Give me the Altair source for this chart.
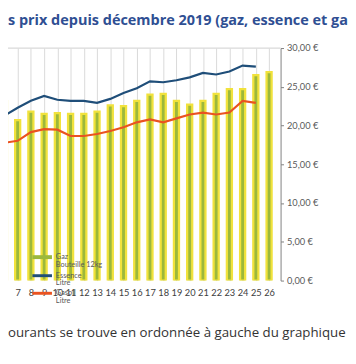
import altair as alt
import pandas as pd

# ---- data ----
categories = list(range(6, 27))
gaz_bouteille = [23.2, 20.7, 21.8, 21.5, 21.6, 21.5, 21.5, 21.8, 22.6, 22.5, 23.2,
                 24.0, 24.1, 23.2, 22.7, 23.2, 24.1, 24.7, 24.7, 26.5, 26.9]
line_categories = list(range(6, 26))
essence_litre = [1.420, 1.487, 1.546, 1.588, 1.555, 1.546, 1.546, 1.529, 1.563, 1.613,
                 1.655, 1.714, 1.706, 1.723, 1.748, 1.786, 1.773, 1.798, 1.849, 1.840]
gasoil_litre = [1.185, 1.202, 1.277, 1.303, 1.298, 1.244, 1.244, 1.261, 1.286, 1.319,
                1.361, 1.387, 1.361, 1.395, 1.429, 1.445, 1.429, 1.445, 1.546, 1.529]
right_axis_ticks = [0, 5, 10, 15, 20, 25, 30]
x_tick_labels = list(range(7, 27))
series_names = ["Gaz", "Essence", "Gasoil"]
series_units = ["Bouteille 12kg", "Litre", "Litre"]
title_text = ["s prix depuis décembre 2019 (gaz, essence et ga"]
note_text = ["ourants se trouve en ordonnée à gauche du graphique"]

GREEN = "#9cb83c"
YELLOW = "#f1e23c"
BLUE = "#1f4e79"
RED = "#ea5321"
PLOT_W, PLOT_H = 279, 238

bar_df = pd.DataFrame({"cat": categories, "gaz": gaz_bouteille})
line_df = pd.concat([
    pd.DataFrame({"cat": line_categories, "value": essence_litre, "series": "Essence"}),
    pd.DataFrame({"cat": line_categories, "value": gasoil_litre, "series": "Gasoil"}),
])
legend_df = pd.DataFrame({"name": series_names, "unit": series_units,
                          "color": [GREEN, BLUE, RED]})

xscale = alt.Scale(domain=[6.64, 26.5], nice=False, zero=False)
xaxis = alt.Axis(values=x_tick_labels, grid=True, gridColor="#d9d9d9",
                 gridWidth=1, ticks=False, domain=False, format="d",
                 labelFont="Lato", labelFontSize=9.5, labelColor="#404040",
                 labelPadding=7, labelFlush=False, labelOverlap=False)
yscale_right = alt.Scale(domain=[0, 30], nice=False)
yaxis_right = alt.Axis(orient="right", values=right_axis_ticks, grid=False,
                       labelExpr="replace(format(datum.value, '.2f'), '.', ',') + ' €'",
                       labelFont="Lato", labelFontSize=9.5, labelColor="#595959",
                       labelPadding=3, tickSize=3, tickColor="#7f7f7f",
                       domainColor="#7f7f7f", labelFlush=False,
                       labelOverlap=False, tickCount=7)

bars = alt.Chart(bar_df).mark_bar(
    size=5.2, color=GREEN, stroke=YELLOW, strokeWidth=2.3, clip=True
).encode(
    x=alt.X("cat:Q", scale=xscale, title=None, axis=xaxis),
    y=alt.Y("gaz:Q", scale=yscale_right, title=None, axis=yaxis_right),
)

top_rule = alt.Chart(bar_df.head(1)).mark_rule(color="#d9d9d9", strokeWidth=1.2).encode(
    y=alt.Y(datum=30, scale=yscale_right, title=None, axis=yaxis_right)
)

bars_group = alt.layer(top_rule, bars)

lines = alt.Chart(line_df).mark_line(strokeWidth=2.2, clip=True).encode(
    x=alt.X("cat:Q", scale=xscale, title=None, axis=xaxis),
    y=alt.Y("value:Q", scale=alt.Scale(domain=[0, 2], nice=False), axis=None),
    color=alt.Color("series:N", scale=alt.Scale(domain=["Essence", "Gasoil"],
                                                range=[BLUE, RED]), legend=None),
)

# manual legend (bottom-left, inside the plot)
legend_layers = []
sw_y = [214, 233, 251]
unit_y = [222, 241, 259]
sw_w = [4, 3, 3]
for i in range(3):
    d = legend_df.iloc[[i]]
    legend_layers.append(alt.Chart(d).mark_rule(strokeWidth=sw_w[i], color=legend_df.color[i]).encode(
        x=alt.value(25), x2=alt.value(45), y=alt.value(sw_y[i])))
    legend_layers.append(alt.Chart(d).mark_text(
        align="left", baseline="middle", font="Lato", fontSize=7.5, color="#595959").encode(
        x=alt.value(49), y=alt.value(sw_y[i]), text="name:N"))
    legend_layers.append(alt.Chart(d).mark_text(
        align="left", baseline="middle", font="Lato", fontSize=7.5, color="#595959").encode(
        x=alt.value(49), y=alt.value(unit_y[i]), text="unit:N"))

title = alt.Chart(pd.DataFrame({"t": title_text})).mark_text(
    align="left", baseline="middle", font="Open Sans", fontSize=14.8, fontWeight="bold",
    color="#2f4f93").encode(x=alt.value(0), y=alt.value(-28), text="t:N")

note = alt.Chart(pd.DataFrame({"t": note_text})).mark_text(
    align="left", baseline="middle", font="Open Sans", fontSize=13.6, color="#333333").encode(
    x=alt.value(0), y=alt.value(292), text="t:N")

main = alt.layer(bars_group, lines).resolve_scale(y="independent")

chart = alt.layer(main, *legend_layers, title, note).properties(
    width=PLOT_W, height=PLOT_H,
    autosize=alt.AutoSizeParams(type="none"),
    padding={"left": 0, "top": 37, "right": 69, "bottom": 65},
).configure_view(stroke=None)

chart.save("out.html", embed_options={"renderer": "svg", "actions": False})
